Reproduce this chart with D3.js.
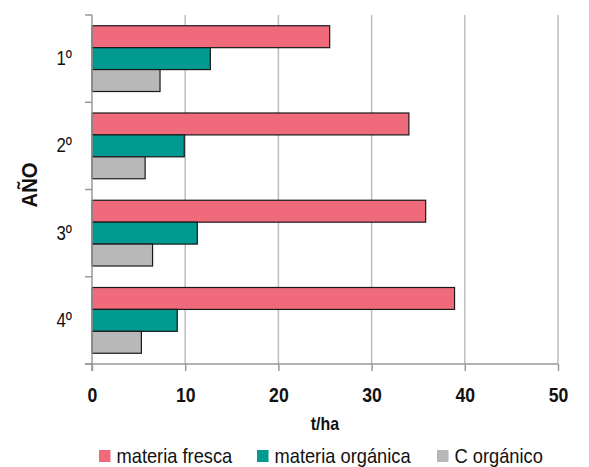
<!DOCTYPE html>
<html><head><meta charset="utf-8">
<script src="https://cdn.jsdelivr.net/npm/d3@7"></script>
<style>
body{margin:0;background:#fff;}
text{font-family:"Liberation Sans","Arial",sans-serif;}
</style></head>
<body><svg id="c" width="589" height="467"></svg>
<script>
const categories = ["1º","2º","3º","4º"];
const seriesNames = ["materia fresca","materia orgánica","C orgánico"];
const materiaFresca = [25.5, 34.0, 35.8, 38.9];
const materiaOrganica = [12.7, 9.9, 11.3, 9.15];
const cOrganico = [7.3, 5.7, 6.5, 5.3];
const xTicks = [0,10,20,30,40,50];
const colors = ["#EF6B7B","#009A90","#B8B8B8"];
const series = [materiaFresca, materiaOrganica, cOrganico];

const svg = d3.select("#c");
const x = d3.scaleLinear().domain([0,50]).range([92,558]);
const y = d3.scaleBand().domain(categories).range([15,364]);
const inner = d3.scaleBand().domain(seriesNames).range([0, y.bandwidth()]).paddingOuter(0.49);

// gridlines
svg.append("g").selectAll("line").data(xTicks.slice(1)).join("line")
  .attr("x1",d=>x(d)).attr("x2",d=>x(d)).attr("y1",15).attr("y2",364)
  .attr("stroke","#bdbdbd").attr("stroke-width",1.5);

// bars
categories.forEach((c,i)=>{
  seriesNames.forEach((s,j)=>{
    svg.append("rect")
      .attr("x",x(0)).attr("y",y(c)+inner(s))
      .attr("width",x(series[j][i])-x(0)).attr("height",inner.bandwidth())
      .attr("fill",colors[j]).attr("stroke","#1a1a1a").attr("stroke-width",1.2);
  });
});

// x axis
const xa = svg.append("g").attr("transform","translate(0,364)")
  .call(d3.axisBottom(x).tickValues(xTicks).tickSize(7).tickPadding(16).tickFormat(d3.format("d")));
xa.select(".domain").attr("stroke","#999").attr("stroke-width",1.5).attr("d","M85,0H558");
xa.selectAll(".tick line").attr("stroke","#999").attr("stroke-width",1.5);
xa.selectAll("text").attr("font-size",21).attr("font-weight","bold").attr("fill","#111")
  .style("font-family","'Liberation Sans',sans-serif").attr("class","cond").attr("data-k",0.84);

// y axis
const ya = svg.append("g").attr("transform","translate(92,0)")
  .call(d3.axisLeft(y).tickSize(0).tickPadding(20));
ya.select(".domain").attr("stroke","#999").attr("stroke-width",1.5).attr("d","M0,15V371");
ya.selectAll("text").attr("font-size",20).attr("fill","#111")
  .style("font-family","'Liberation Sans',sans-serif").attr("class","cond").attr("data-k",0.84);
const yb = [15, ...categories.slice(1).map(c=>y(c)), 364];
svg.append("g").selectAll("line").data(yb).join("line")
  .attr("x1",85).attr("x2",92).attr("y1",d=>d).attr("y2",d=>d)
  .attr("stroke","#999").attr("stroke-width",1.5);

// axis titles
svg.append("text").attr("x",325).attr("y",430).attr("text-anchor","middle").attr("class","cond").attr("data-k",0.84)
  .attr("font-size",19).attr("font-weight","bold").attr("fill","#111").text("t/ha");
svg.append("text").attr("transform","translate(37,185) rotate(-90)").attr("text-anchor","middle").attr("class","cond").attr("data-k",0.92)
  .attr("font-size",22).attr("font-weight","bold").attr("fill","#111").text("AÑO");

// legend
const legX = [99, 257, 437];
const lg = svg.append("g").selectAll("g").data(seriesNames).join("g")
  .attr("transform",(d,i)=>`translate(${legX[i]},450)`);
lg.append("rect").attr("width",11.5).attr("height",12).attr("fill",(d,i)=>colors[i]);
lg.append("text").attr("x",17.5).attr("y",13).attr("font-size",21).attr("fill","#111").attr("class","cond").attr("data-k",0.87).text(d=>d);

// condensed look
svg.selectAll("text.cond").each(function(){
  const k = +this.getAttribute("data-k");
  const L = this.getComputedTextLength();
  d3.select(this).attr("textLength", L*k).attr("lengthAdjust","spacingAndGlyphs");
});
</script></body></html>
